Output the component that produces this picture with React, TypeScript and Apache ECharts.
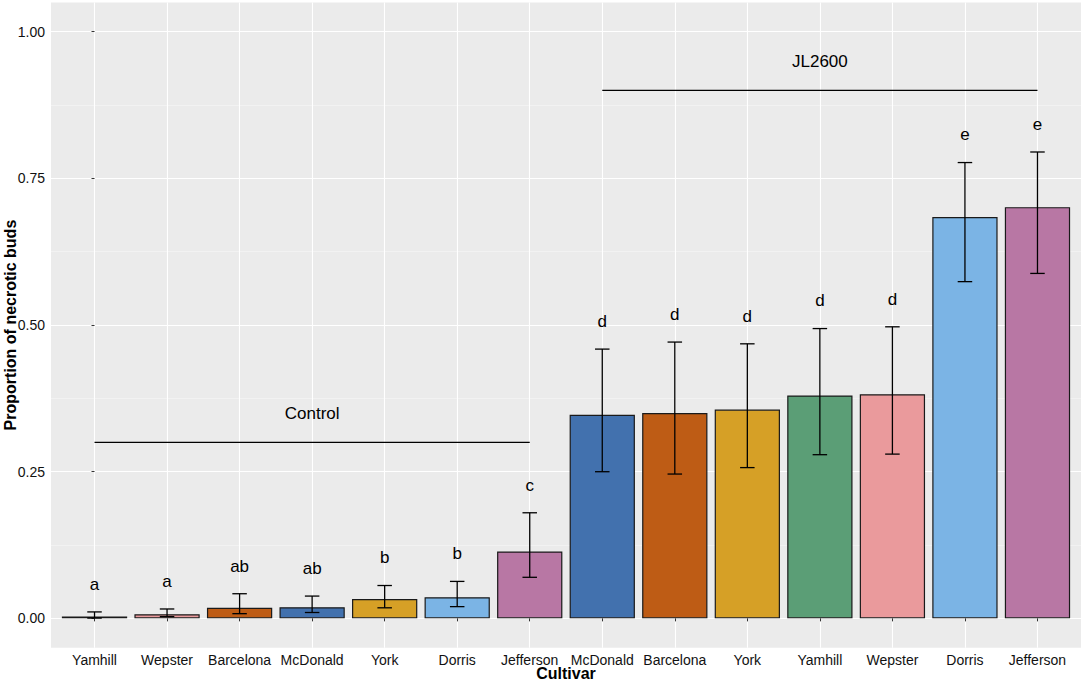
import React, { useEffect, useRef } from "react";
import * as echarts from "echarts";

// ---- data ----
const categories = [
  "Yamhill", "Wepster", "Barcelona", "McDonald", "York", "Dorris", "Jefferson",
  "McDonald", "Barcelona", "York", "Yamhill", "Wepster", "Dorris", "Jefferson",
];
const proportions = [0.003, 0.007, 0.018, 0.019, 0.033, 0.036, 0.114, 0.347, 0.35, 0.356, 0.38, 0.382, 0.684, 0.701];
const lowerCI = [0.0005, 0.003, 0.008, 0.01, 0.018, 0.02, 0.07, 0.25, 0.246, 0.257, 0.279, 0.28, 0.574, 0.588];
const upperCI = [0.011, 0.016, 0.042, 0.038, 0.056, 0.063, 0.18, 0.459, 0.471, 0.468, 0.494, 0.497, 0.777, 0.795];
const letters = ["a", "a", "ab", "ab", "b", "b", "c", "d", "d", "d", "d", "d", "e", "e"];

const groupLabels = ["Control", "JL2600"];
const groupStart = [0, 7];
const groupEnd = [6, 13];
const groupLineY = [0.3, 0.9];
const groupTextY = [0.35, 0.95];

const yTicks = [0, 0.25, 0.5, 0.75, 1];
const yMinorTicks = [0.125, 0.375, 0.625, 0.875];
const xTicks = categories.map((_, i) => i);

// ---- styles ----
const cultivarColors: Record<string, string> = {
  McDonald: "#4271AE",
  Barcelona: "#BE5C15",
  York: "#D6A026",
  Yamhill: "#5B9E76",
  Wepster: "#EA9A9C",
  Dorris: "#7BB4E5",
  Jefferson: "#B877A4",
};
const FONT = "'Liberation Sans', Arial, Helvetica, sans-serif";
const LETTER_OFFSET = 0.047;

export default function App() {
  const ref = useRef<HTMLDivElement>(null);

  useEffect(() => {
    document.body.style.margin = "0";
    if (!ref.current) return;
    const chart = echarts.init(ref.current, null, { renderer: "svg" });

    const barData = proportions.map((v, i) => ({
      value: [i, v],
      itemStyle: { color: cultivarColors[categories[i]] },
    }));
    const errData = categories.map((_, i) => [i, lowerCI[i], upperCI[i]]);
    const groupData = groupLabels.map((_, g) => [groupStart[g], groupEnd[g], groupLineY[g], groupTextY[g]]);

    const option: any = {
      animation: false,
      backgroundColor: "#ffffff",
      textStyle: { fontFamily: FONT },
      grid: {
        left: 51,
        right: 3,
        top: 2.4,
        bottom: 34.3,
        show: true,
        backgroundColor: "#EBEBEB",
        borderWidth: 0,
        containLabel: false,
        outerBoundsMode: "none",
      },
      xAxis: {
        type: "value",
        min: -0.6,
        max: 13.6,
        axisLine: { show: false },
        axisTick: {
          show: true,
          customValues: xTicks,
          length: 3,
          lineStyle: { color: "#333333", width: 1 },
        },
        axisLabel: {
          customValues: xTicks,
          formatter: (v: number) => categories[Math.round(v)] ?? "",
          color: "#111111",
          fontSize: 14,
          fontFamily: FONT,
          margin: 5,
          hideOverlap: false,
        },
        splitLine: { show: true, lineStyle: { color: "#ffffff", width: 1.1 } },
        name: "Cultivar",
        nameLocation: "middle",
        nameGap: 18,
        nameMoveOverlap: false,
        nameTextStyle: { fontWeight: "bold", fontSize: 16, color: "#000000", fontFamily: FONT },
      },
      yAxis: [
        {
          type: "value",
          min: -0.05,
          max: 1.05,
          axisLine: { show: false },
          axisTick: {
            show: true,
            customValues: yTicks,
            length: 3,
            lineStyle: { color: "#333333", width: 1 },
          },
          axisLabel: {
            customValues: yTicks,
            formatter: (v: number) => v.toFixed(2),
            color: "#111111",
            fontSize: 14,
            fontFamily: FONT,
            margin: 6,
          },
          splitLine: { show: true, lineStyle: { color: "#ffffff", width: 1.1 } },
          name: "Proportion of necrotic buds",
          nameLocation: "middle",
          nameGap: 33,
          nameMoveOverlap: false,
          nameTextStyle: { fontWeight: "bold", fontSize: 16, color: "#000000", fontFamily: FONT },
        },
        {
          type: "value",
          min: -0.05,
          max: 1.05,
          position: "left",
          axisLine: { show: false },
          axisTick: { show: false, customValues: yMinorTicks },
          axisLabel: { show: false, customValues: yMinorTicks },
          splitLine: { show: true, lineStyle: { color: "#F6F6F6", width: 0.6 } },
        },
      ],
      series: [
        {
          type: "bar",
          data: barData,
          barWidth: "90%",
          itemStyle: { borderColor: "#1a1a1a", borderWidth: 1.2 },
          z: 2,
        },
        {
          type: "custom",
          data: errData,
          z: 3,
          renderItem: (params: any, api: any) => {
            const x = api.value(0);
            const lo = api.value(1);
            const hi = api.value(2);
            const top = api.coord([x, hi]);
            const bot = api.coord([x, lo]);
            const half = api.size([0.1, 0])[0];
            const letterPos = api.coord([x, hi + LETTER_OFFSET]);
            const stroke = { stroke: "#000000", lineWidth: 1.3 };
            return {
              type: "group",
              children: [
                { type: "line", shape: { x1: top[0], y1: top[1], x2: bot[0], y2: bot[1] }, style: stroke },
                { type: "line", shape: { x1: top[0] - half, y1: top[1], x2: top[0] + half, y2: top[1] }, style: stroke },
                { type: "line", shape: { x1: bot[0] - half, y1: bot[1], x2: bot[0] + half, y2: bot[1] }, style: stroke },
                {
                  type: "text",
                  x: letterPos[0],
                  y: letterPos[1],
                  style: {
                    text: letters[params.dataIndex],
                    fill: "#000000",
                    fontSize: 17,
                    fontFamily: FONT,
                    align: "center",
                    verticalAlign: "middle",
                  },
                },
              ],
            };
          },
        },
        {
          type: "custom",
          data: groupData,
          z: 3,
          renderItem: (params: any, api: any) => {
            const s = api.value(0);
            const e = api.value(1);
            const ly = api.value(2);
            const ty = api.value(3);
            const p1 = api.coord([s, ly]);
            const p2 = api.coord([e, ly]);
            const pt = api.coord([(s + e) / 2, ty]);
            return {
              type: "group",
              children: [
                {
                  type: "line",
                  shape: { x1: p1[0], y1: p1[1], x2: p2[0], y2: p2[1] },
                  style: { stroke: "#000000", lineWidth: 1.3 },
                },
                {
                  type: "text",
                  x: pt[0],
                  y: pt[1],
                  style: {
                    text: groupLabels[params.dataIndex],
                    fill: "#000000",
                    fontSize: 17,
                    fontFamily: FONT,
                    align: "center",
                    verticalAlign: "middle",
                  },
                },
              ],
            };
          },
        },
      ],
    };

    chart.setOption(option);
    return () => chart.dispose();
  }, []);

  return <div ref={ref} style={{ width: 1084, height: 682 }} />;
}
